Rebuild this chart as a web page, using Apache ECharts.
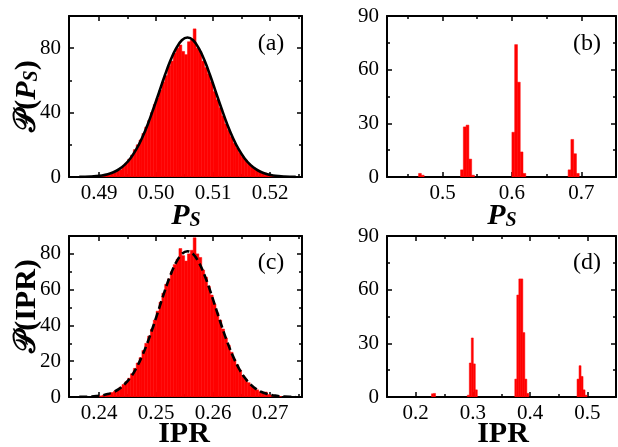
<!DOCTYPE html>
<html><head><meta charset="utf-8">
<script src="https://cdn.jsdelivr.net/npm/echarts@6.0.0/dist/echarts.min.js"></script>
<style>html,body{margin:0;padding:0;background:#fff}#c{width:618px;height:447px}</style>
</head><body><div id="c"></div>
<script>
// ---------- DATA ----------
// (a) histogram of P_S : uniform bins
const aBinStart = 0.489, aBinWidth = 0.0005;
const aCounts = [0.3,0.5,0.8,0.7,1.2,1.5,2.2,2.8,3.8,4.5,6.5,8.5,11,13.5,17,20,23,27,31,35,40,45,49,54,59,63,69,72,77,80,82,78,76,84,85,92,80,78,72,68,64,59,53,48,43,38,33,29,25,21,18,15,12.5,10.5,8.5,7,5.5,4.3,3.3,2.6,2.4,1.5,1.0,0.7,0.5,0.3];
// (a) fitted curve (solid)
const aCurveX = [0.4865,0.4875,0.4885,0.4895,0.4905,0.4915,0.4925,0.4935,0.4945,0.4955,0.4965,0.4975,0.4985,0.4995,0.5005,0.5015,0.5025,0.5035,0.5045,0.5055,0.5065,0.5075,0.5085,0.5095,0.5105,0.5115,0.5125,0.5135,0.5145,0.5155,0.5165,0.5175,0.5185,0.5195,0.5205,0.5215,0.5225,0.5235,0.5245];
const aCurveY = [0.06,0.13,0.27,0.52,0.96,1.72,2.95,4.86,7.70,11.7,17.1,24.1,32.5,42.2,52.5,62.9,72.3,79.9,84.9,86.6,84.9,79.9,72.3,62.9,52.5,42.2,32.5,24.1,17.1,11.7,7.70,4.86,2.95,1.72,0.96,0.52,0.27,0.13,0.06];
// (b) histogram of P_S : bin centres and heights
const bBinWidth = 0.004;
const bCenters = [0.4675,0.4715,0.528,0.532,0.536,0.540,0.544,0.602,0.606,0.610,0.614,0.618,0.683,0.687,0.691,0.695];
const bCounts  = [2,1,4,28,29,10,1,25,74,53,14,2,4,21,13,2];
// (c) histogram of IPR : uniform bins
const cBinStart = 0.2390, cBinWidth = 0.0005;
const cCounts = [0.3,0.5,0.6,1.0,1.5,1.8,2.5,3.2,4.0,5.5,7.0,8.5,10.5,13,16,19,22,26,30,34,38,43,48,53,58,63,66,70,74,77,83,79,76,80,82,89,80,78,71,67,62,57,52,47,43,38,33,29,25,21,18,15,12,10,8,6.5,5,4,3,2.5,2.8,1.4,1.0,0.7,0.5,0.3];
// (c) fitted curve (dashed)
const cCurveX = [0.2365,0.2375,0.2385,0.2395,0.2405,0.2415,0.2425,0.2435,0.2445,0.2455,0.2465,0.2475,0.2485,0.2495,0.2505,0.2515,0.2525,0.2535,0.2545,0.2555,0.2565,0.2575,0.2585,0.2595,0.2605,0.2615,0.2625,0.2635,0.2645,0.2655,0.2665,0.2675,0.2685,0.2695,0.2705,0.2715,0.2725,0.2735,0.2745];
const cCurveY = [0.06,0.12,0.25,0.49,0.90,1.61,2.77,4.57,7.25,11.0,16.1,22.7,30.6,39.7,49.4,59.2,68.1,75.2,79.9,81.5,79.9,75.2,68.1,59.2,49.4,39.7,30.6,22.7,16.1,11.0,7.25,4.57,2.77,1.61,0.90,0.49,0.25,0.12,0.06];
// (d) histogram of IPR : bin centres and heights
const dBinWidth = 0.0035;
const dCenters = [0.2295,0.2330,0.2920,0.2955,0.2990,0.3025,0.3060,0.3750,0.3785,0.3820,0.3855,0.3890,0.3925,0.3960,0.4837,0.4872,0.4907,0.4942,0.4977];
const dCounts  = [1.8,2.0,1,19,33,18.5,4,10,57,66,66,36,10,2,10,17.5,11.5,4,1];

// tick definitions
const aXMajor = [0.49,0.50,0.51,0.52], aXMinor = [0.495,0.505,0.515,0.525];
const bXMajor = [0.5,0.6,0.7], bXMinor = [0.45,0.55,0.65];
const cXMajor = [0.24,0.25,0.26,0.27], cXMinor = [0.245,0.255,0.265,0.275];
const dXMajor = [0.2,0.3,0.4,0.5], dXMinor = [0.25,0.35,0.45];
const aYMajor = [0,40,80], aYMinor = [20,60,100];
const bYMajor = [0,30,60,90], bYMinor = [15,45,75];
const cYMajor = [0,20,40,60,80], cYMinor = [10,30,50,70,90];
const dYMajor = [0,30,60,90], dYMinor = [15,45,75];

// ---------- CHART ----------
const FONT = 'Liberation Serif';
const xAxes = [], yAxes = [];
function lineStyle(w){return {color:'#000', width:w};}
function addAxes(list, g, min, max, major, minor, fmt, isX){
  const base = {gridIndex:g, type:'value', min:min, max:max, splitLine:{show:false}, scale:false};
  const idx = list.length;
  const labelPos = isX ? 'bottom' : 'left';
  const otherPos = isX ? 'top' : 'right';
  list.push(Object.assign({}, base, {position:labelPos,
    axisLine:{show:true,onZero:false,lineStyle:lineStyle(2)},
    axisTick:{show:true,inside:true,length:5,customValues:major,lineStyle:lineStyle(1.5)},
    axisLabel:{show:true,customValues:major,formatter:fmt,color:'#000',fontFamily:FONT,fontSize:21,margin:isX?6:8}}));
  list.push(Object.assign({}, base, {position:labelPos,
    axisLine:{show:false,onZero:false},
    axisTick:{show:true,inside:true,length:3,customValues:minor,lineStyle:lineStyle(1.5)},
    axisLabel:{show:false}}));
  list.push(Object.assign({}, base, {position:otherPos,
    axisLine:{show:true,onZero:false,lineStyle:lineStyle(2)},
    axisTick:{show:true,inside:true,length:5,customValues:major,lineStyle:lineStyle(1.5)},
    axisLabel:{show:false}}));
  list.push(Object.assign({}, base, {position:otherPos,
    axisLine:{show:false,onZero:false},
    axisTick:{show:true,inside:true,length:3,customValues:minor,lineStyle:lineStyle(1.5)},
    axisLabel:{show:false}}));
  return idx;
}
const f2 = v => v.toFixed(2), f1 = v => v.toFixed(1), f0 = v => String(Math.round(v));

const grids = [
  {left:69, top:16, width:233, height:161},
  {left:387, top:16, width:229, height:161},
  {left:69, top:236, width:233, height:161},
  {left:387, top:236, width:229, height:161}
].map(g => Object.assign({outerBoundsMode:'none', containLabel:false}, g));

const axA = [addAxes(xAxes,0,0.4847,0.5256,aXMajor,aXMinor,f2,true), addAxes(yAxes,0,0,100,aYMajor,aYMinor,f0,false)];
const axB = [addAxes(xAxes,1,0.42,0.75,bXMajor,bXMinor,f1,true), addAxes(yAxes,1,0,90,bYMajor,bYMinor,f0,false)];
const axC = [addAxes(xAxes,2,0.2347,0.2756,cXMajor,cXMinor,f2,true), addAxes(yAxes,2,0,90,cYMajor,cYMinor,f0,false)];
const axD = [addAxes(xAxes,3,0.15,0.55,dXMajor,dXMinor,f1,true), addAxes(yAxes,3,0,90,dYMajor,dYMinor,f0,false)];

function uniformBins(start, w, counts){ return counts.map((c,i)=>[start+i*w, start+(i+1)*w, c]); }
function centredBins(centres, w, counts){ return centres.map((x,i)=>[x-w/2, x+w/2, counts[i]]); }
function histSeries(ax, data){
  return {type:'custom', xAxisIndex:ax[0], yAxisIndex:ax[1], clip:true, data:data, encode:{x:[0,1], y:2}, z:2,
    renderItem:function(params, api){
      const p0 = api.coord([api.value(0), api.value(2)]);
      const p1 = api.coord([api.value(1), 0]);
      return {type:'rect', shape:{x:p0[0], y:p0[1], width:p1[0]-p0[0], height:p1[1]-p0[1]},
        style:{fill:'#ff0000', stroke:'#ff0000', lineWidth:0.5}};
    }};
}
function curveSeries(ax, xs, ys, dashed){
  return {type:'line', xAxisIndex:ax[0], yAxisIndex:ax[1], data:xs.map((x,i)=>[x,ys[i]]), showSymbol:false, symbol:'none',
    smooth:0.4, z:5, clip:true, lineStyle:{color:'#000', width:2.6, type: dashed ? [8,4] : 'solid'}};
}

const T = (x,y,txt,extra) => ({type:'text', x:x, y:y, z:100, style:Object.assign({text:txt, fill:'#000', font:'24px "'+FONT+'"', textAlign:'center', textVerticalAlign:'middle'}, extra||{})});

const richBase = {
  c:{fontFamily:FONT, fontSize:30, fontWeight:'bold', lineHeight:34, verticalAlign:'bottom'},
  n:{fontFamily:FONT, fontSize:30, fontWeight:'bold', lineHeight:34, verticalAlign:'bottom'},
  p:{fontFamily:FONT, fontSize:30, fontWeight:'bold', fontStyle:'italic', lineHeight:34, verticalAlign:'bottom'},
  s:{fontFamily:FONT, fontSize:20, fontWeight:'bold', fontStyle:'italic', lineHeight:20, verticalAlign:'bottom'}
};

const graphic = [
  T(271,44,'(a)'), T(587,44,'(b)'), T(271,263,'(c)'), T(587,263,'(d)'),
  {type:'text', x:186, y:214, z:100, style:{text:'{p|P}{s|S}', rich:richBase, textAlign:'center', textVerticalAlign:'middle', fill:'#000'}},
  {type:'text', x:502, y:214, z:100, style:{text:'{p|P}{s|S}', rich:richBase, textAlign:'center', textVerticalAlign:'middle', fill:'#000'}},
  {type:'text', x:184, y:434, z:100, style:{text:'IPR', font:'bold 30px "'+FONT+'"', textAlign:'center', textVerticalAlign:'middle', fill:'#000'}},
  {type:'text', x:503, y:434, z:100, style:{text:'IPR', font:'bold 30px "'+FONT+'"', textAlign:'center', textVerticalAlign:'middle', fill:'#000'}},
  {type:'text', x:25, y:96, rotation:Math.PI/2, z:100, style:{text:'{c|𝒫}{n|(}{p|P}{s|S}{n|)}', rich:richBase, textAlign:'center', textVerticalAlign:'middle', fill:'#000'}},
  {type:'text', x:25, y:306, rotation:Math.PI/2, z:100, style:{text:'{c|𝒫}{n|(IPR)}', rich:richBase, textAlign:'center', textVerticalAlign:'middle', fill:'#000'}}
];

const chart = echarts.init(document.getElementById('c'), null, {renderer:'canvas'});
chart.setOption({
  animation:false,
  backgroundColor:'#fff',
  grid:grids,
  xAxis:xAxes,
  yAxis:yAxes,
  graphic:graphic,
  series:[
    histSeries(axA, uniformBins(aBinStart, aBinWidth, aCounts)),
    curveSeries(axA, aCurveX, aCurveY, false),
    histSeries(axB, centredBins(bCenters, bBinWidth, bCounts)),
    histSeries(axC, uniformBins(cBinStart, cBinWidth, cCounts)),
    curveSeries(axC, cCurveX, cCurveY, true),
    histSeries(axD, centredBins(dCenters, dBinWidth, dCounts))
  ]
});
</script></body></html>
